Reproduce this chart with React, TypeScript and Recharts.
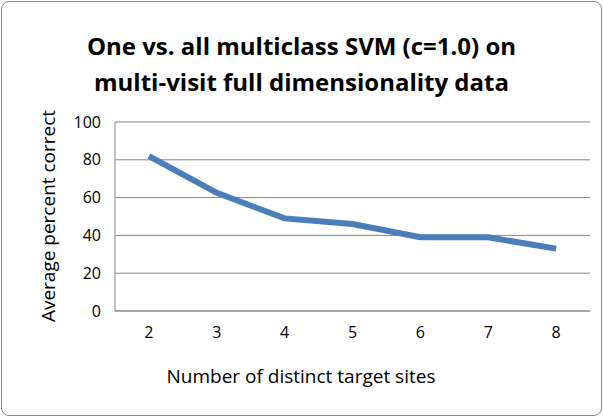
import React from 'react';
import { LineChart, Line, XAxis, YAxis, CartesianGrid } from 'recharts';

const categories = ['2', '3', '4', '5', '6', '7', '8'];
const values = [82, 62.5, 49, 46, 39, 39, 33];
const yTicks = [0, 20, 40, 60, 80, 100];

const data = categories.map((c, i) => ({ name: c, value: values[i] }));
const font = 'Open Sans, Lato, sans-serif';

export default function App() {
  return (
    <div style={{ position: 'absolute', left: 0, top: 0, width: 603, height: 417, fontFamily: font }}>
      <div style={{ position: 'absolute', left: 1, top: 1, width: 599, height: 413, border: '1px solid #8c8c8c', borderRadius: 8 }} />
      <div style={{ position: 'absolute', top: 28, width: 603, textAlign: 'center', fontWeight: 'bold', fontSize: 24, lineHeight: '36px', color: '#000' }}>
        One vs. all multiclass SVM (c=1.0) on<br />multi-visit full dimensionality data
      </div>
      <LineChart width={603} height={417} data={data} margin={{ top: 122, right: 13, left: 75, bottom: 76 }} style={{ position: 'absolute', left: 0, top: 0 }}>
        <CartesianGrid vertical={false} stroke="#868686" />
        <XAxis dataKey="name" scale="band" height={30} tickLine={false} axisLine={{ stroke: '#868686' }}
          tick={{ fill: '#000', fontSize: 16, fontFamily: font }} tickMargin={10} />
        <YAxis domain={[0, 100]} ticks={yTicks} width={40} tickLine={false} axisLine={{ stroke: '#868686' }}
          tick={{ fill: '#000', fontSize: 16, fontFamily: font }} tickMargin={8} />
        <text x={301} y={383} textAnchor="middle" fontSize={19} fontFamily={font} fill="#000">
          Number of distinct target sites
        </text>
        <text x={50} y={216} transform="rotate(-90 50 216)" textAnchor="middle" dominantBaseline="middle" fontSize={19} fontFamily={font} fill="#000">
          Average percent correct
        </text>
        <Line dataKey="value" stroke="#4a7ebb" strokeWidth={6} dot={false} isAnimationActive={false} />
      </LineChart>
    </div>
  );
}
